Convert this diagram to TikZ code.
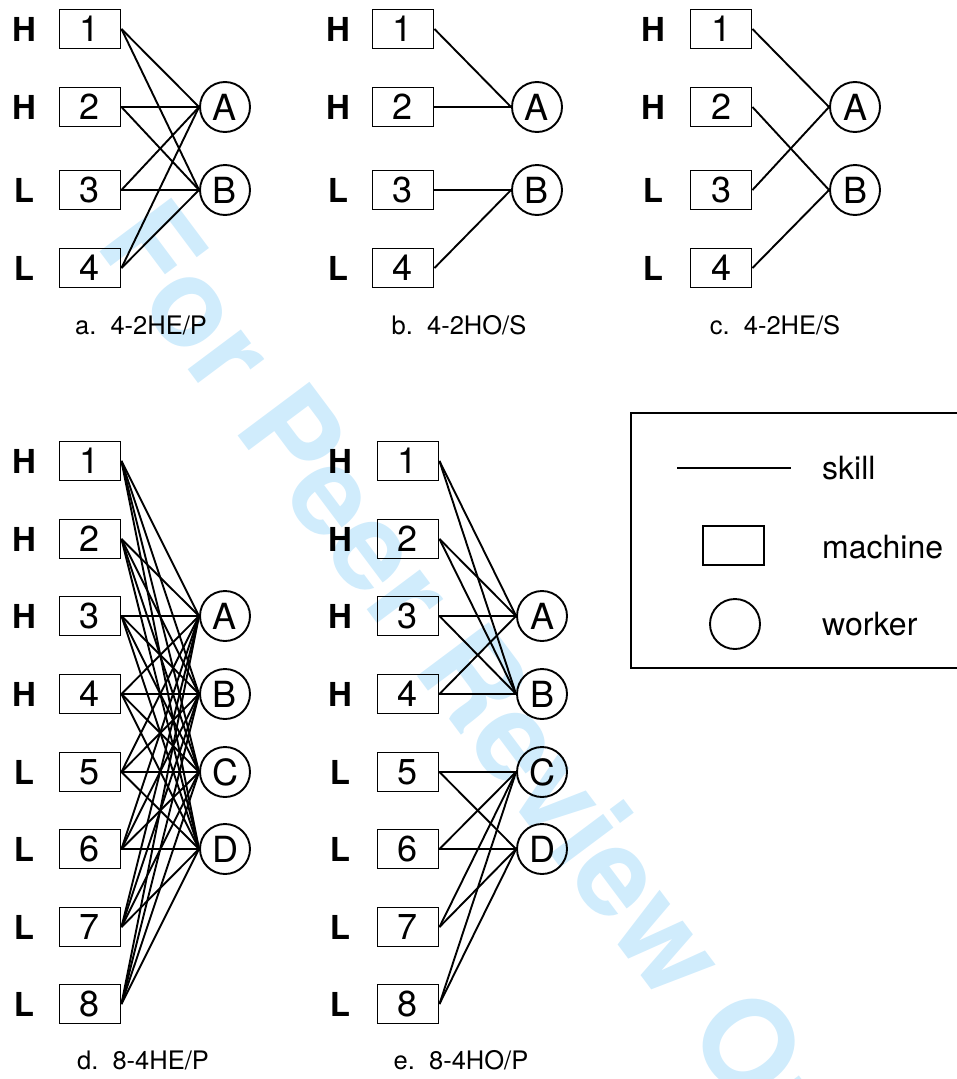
\documentclass[tikz,border=0pt]{standalone}
\usepackage{fontspec}
\setmainfont{TeX Gyre Heros}
\definecolor{wm}{RGB}{208,236,252}
\begin{document}
\begin{tikzpicture}[x=1pt,y=-1pt,
  machine/.style={draw,line width=1.9pt,minimum width=61pt,minimum height=39pt,inner sep=0pt,font=\fontsize{36}{36}\selectfont},
  worker/.style={draw,circle,line width=1.9pt,minimum size=50pt,inner sep=0pt,font=\fontsize{36}{36}\selectfont},
  hl/.style={font=\fontsize{33}{33}\selectfont\bfseries,inner sep=0pt},
  captxt/.style={font=\fontsize{25.5}{25.5}\selectfont,inner sep=0pt},
  leg/.style={font=\fontsize{32}{32}\selectfont,inner sep=0pt,anchor=west},
  skill/.style={line width=1.9pt}]
\useasboundingbox (0,0) rectangle (957,1079);
% watermark
\node[text=wm,font=\fontsize{123}{123}\selectfont\bfseries,anchor=base west,rotate=-53.2,inner sep=0pt] (wmark) at (94,244) {For Peer Review Only};
% top panels
\foreach \p/\lx/\bx in {a/24/90,b/338/403,c/653/721}{
  \foreach \i/\y/\s in {1/29/H,2/107/H,3/190/L,4/268/L}{
    \node[hl] (\p l\i) at (\lx,\y) {\s};
    \node[machine] (\p\i) at (\bx,\y) {\i};
  }
}
\foreach \p/\cx in {a/225,b/537,c/855}{
  \node[worker] (\p A) at (\cx,107) {A};
  \node[worker] (\p B) at (\cx,190) {B};
}
\node[captxt] (capa) at (141,325) {a.\ \ 4-2HE/P};
\node[captxt] (capb) at (459,325) {b.\ \ 4-2HO/S};
\node[captxt] (capc) at (775,325) {c.\ \ 4-2HE/S};
% bottom panels
\foreach \p/\lx/\bx in {d/24/90,e/340/408}{
  \foreach \i/\y/\s in {1/461/H,2/539/H,3/616/H,4/694/H,5/772/L,6/849/L,7/927/L,8/1004/L}{
    \node[hl] (\p l\i) at (\lx,\y) {\s};
    \node[machine] (\p\i) at (\bx,\y) {\i};
  }
}
\foreach \p/\cx in {d/225,e/542}{
  \node[worker] (\p A) at (\cx,616) {A};
  \node[worker] (\p B) at (\cx,694) {B};
  \node[worker] (\p C) at (\cx,772) {C};
  \node[worker] (\p D) at (\cx,849) {D};
}
\node[captxt] (capd) at (143,1060) {d.\ \ 8-4HE/P};
\node[captxt] (cape) at (461,1060) {e.\ \ 8-4HO/P};
% skills
\foreach \i in {1,...,4}{\foreach \w in {A,B}{\draw[skill] (a\i.east) -- (a\w.west);}}
\draw[skill] (b1.east) -- (bA.west);
\draw[skill] (b2.east) -- (bA.west);
\draw[skill] (b3.east) -- (bB.west);
\draw[skill] (b4.east) -- (bB.west);
\draw[skill] (c1.east) -- (cA.west);
\draw[skill] (c2.east) -- (cB.west);
\draw[skill] (c3.east) -- (cA.west);
\draw[skill] (c4.east) -- (cB.west);
\foreach \i in {1,...,8}{\foreach \w in {A,B,C,D}{\draw[skill] (d\i.east) -- (d\w.west);}}
\foreach \i in {1,...,4}{\foreach \w in {A,B}{\draw[skill] (e\i.east) -- (e\w.west);}}
\foreach \i in {5,...,8}{\foreach \w in {C,D}{\draw[skill] (e\i.east) -- (e\w.west);}}
% legend
\draw[line width=1.9pt] (631,413) rectangle (975,668);
\coordinate (ls) at (677,468);
\coordinate (le) at (791,468);
\draw[skill] (ls) -- (le);
\node[machine] (lm) at (733.5,545.5) {};
\node[worker] (lw) at (735,624) {};
\node[leg] (t1) at (822,468) {skill};
\node[leg] (t2) at (822,547) {machine};
\node[leg] (t3) at (822,624) {worker};
\end{tikzpicture}
\end{document}
